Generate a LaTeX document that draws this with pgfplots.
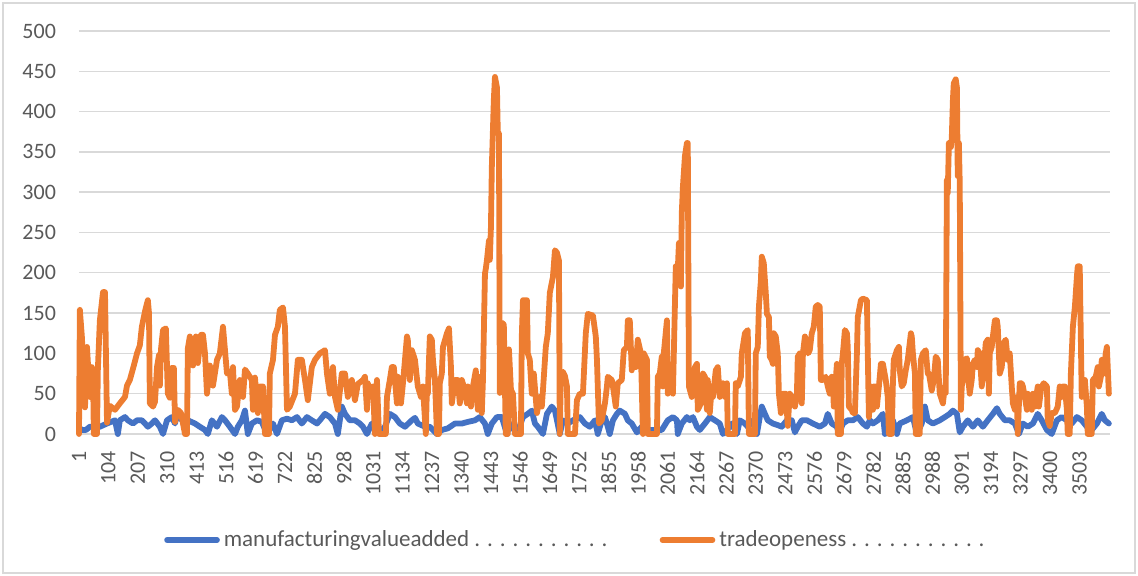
\documentclass[border=0pt]{standalone}
\usepackage{pgfplots}
\usepackage{pgfplotstable}
\pgfplotsset{compat=1.18}
\usepackage{fontspec}
\setmainfont{Carlito}
\definecolor{mblue}{HTML}{4472C4}
\definecolor{morange}{HTML}{ED7D31}
\definecolor{gridgray}{HTML}{D9D9D9}
\definecolor{textgray}{HTML}{595959}

\pgfplotstableread{
x y
1 8
11 5
25 5
39 9
57 9
74 9
99 13
127 17
137 0
144 17
162 21
172 17
190 13
204 17
221 17
232 13
242 9
256 13
267 17
284 9
295 0
309 17
326 21
337 13
347 29
361 17
382 17
407 13
424 9
442 5
452 0
466 17
484 9
501 21
512 17
529 9
547 0
557 9
571 17
582 29
592 0
606 13
624 17
641 15
659 0
680 13
694 0
711 17
729 19
746 17
764 21
781 13
799 21
816 17
834 13
844 17
862 25
879 21
897 13
907 0
921 34
932 25
949 17
967 17
984 13
995 9
1009 0
1026 13
1037 5
1054 3
1072 9
1089 25
1107 21
1124 13
1142 9
1166 17
1177 20
1187 13
1212 9
1229 9
1254 0
1271 5
1292 7
1317 13
1341 13
1362 15
1387 17
1404 21
1422 13
1432 0
1446 13
1464 21
1481 21
1499 0
1509 13
1534 0
1555 21
1572 25
1586 29
1597 13
1607 9
1625 0
1639 25
1656 34
1667 29
1684 0
1695 17
1712 13
1730 17
1754 21
1772 13
1789 9
1807 17
1817 0
1831 17
1842 21
1852 9
1859 0
1870 17
1884 25
1894 29
1912 25
1922 17
1936 13
1954 2
1971 9
1989 5
2006 5
2024 5
2041 5
2062 17
2080 21
2094 17
2097 0
2111 13
2129 21
2139 17
2150 21
2164 9
2174 5
2192 13
2209 21
2227 17
2244 13
2255 0
2269 5
2286 13
2304 0
2314 17
2332 13
2342 9
2360 17
2374 0
2384 21
2391 34
2402 25
2412 17
2430 13
2447 11
2461 9
2479 17
2496 17
2507 2
2517 9
2531 17
2549 17
2570 13
2594 9
2612 13
2622 25
2636 13
2654 9
2661 0
2675 13
2692 17
2710 17
2727 21
2745 13
2759 9
2769 17
2780 13
2797 17
2815 25
2822 0
2832 13
2850 17
2864 0
2874 13
2899 17
2920 21
2934 0
2951 13
2962 34
2972 17
2990 13
3014 17
3032 21
3049 25
3060 29
3074 25
3084 2
3095 9
3112 17
3130 9
3147 17
3165 9
3182 17
3200 25
3214 32
3224 25
3242 17
3259 17
3277 13
3291 0
3305 13
3322 9
3340 13
3357 25
3371 17
3389 5
3406 0
3424 17
3441 21
3459 17
3476 13
3494 21
3511 17
3529 9
3546 5
3564 13
3581 25
3592 17
3606 13
}\manuf

\pgfplotstableread{
x y
1 0
4 154
11 121
18 70
22 33
29 108
39 46
46 83
50 75
53 0
64 0
67 80
74 141
85 176
92 176
99 14
109 35
127 30
144 38
162 46
169 60
179 67
193 85
204 100
214 110
221 133
232 152
239 162
242 166
246 150
249 38
260 34
267 40
274 83
281 98
284 60
288 105
295 129
305 131
312 50
319 45
326 82
333 82
337 15
347 30
358 26
365 13
372 0
379 0
382 106
389 121
400 85
410 121
417 88
428 123
435 123
442 100
449 50
459 85
470 60
484 92
494 100
505 133
519 75
529 78
536 50
540 83
547 30
554 34
564 67
575 46
582 80
592 75
606 67
610 30
617 70
627 26
634 59
645 59
652 0
666 0
669 75
680 92
687 123
697 133
704 154
715 157
722 133
729 30
739 34
757 50
767 92
781 92
792 67
802 42
816 83
827 92
844 100
862 104
869 75
879 50
890 83
897 46
907 30
921 75
932 75
942 46
956 67
967 42
977 62
995 67
1002 71
1009 30
1012 63
1019 46
1030 59
1037 0
1044 67
1051 0
1075 0
1079 46
1089 67
1096 83
1103 83
1114 38
1117 71
1128 38
1135 63
1149 121
1152 117
1159 67
1166 104
1177 92
1187 59
1198 46
1205 59
1215 0
1219 59
1222 50
1229 121
1236 117
1240 92
1247 67
1254 0
1261 0
1264 63
1271 75
1275 108
1289 125
1296 131
1303 83
1306 38
1317 67
1327 67
1334 38
1341 67
1348 59
1359 38
1362 59
1373 34
1380 59
1390 79
1397 30
1401 71
1411 26
1415 67
1422 199
1425 205
1429 216
1436 240
1439 216
1443 257
1446 330
1453 414
1457 443
1464 430
1467 373
1471 373
1474 51
1481 138
1488 136
1495 0
1502 0
1506 105
1513 55
1520 50
1527 0
1548 0
1551 121
1555 166
1569 166
1572 100
1579 92
1586 50
1593 75
1604 26
1614 46
1621 34
1625 54
1635 108
1642 125
1649 175
1660 195
1667 228
1674 225
1681 215
1684 0
1688 75
1695 77
1702 72
1709 59
1712 0
1737 0
1744 42
1754 50
1765 50
1775 125
1782 149
1800 147
1810 121
1814 92
1821 13
1831 17
1842 38
1849 59
1852 71
1866 67
1870 59
1880 34
1887 63
1901 67
1908 104
1919 108
1922 141
1929 141
1936 79
1940 92
1950 83
1957 117
1968 100
1975 0
1978 100
1989 92
1992 0
2010 0
2024 0
2027 71
2034 75
2041 96
2045 59
2048 100
2059 141
2062 50
2069 59
2080 50
2090 208
2097 204
2101 237
2108 183
2111 274
2115 307
2122 345
2129 361
2132 361
2136 59
2146 46
2150 50
2157 83
2164 87
2167 30
2178 38
2185 75
2192 71
2199 30
2202 67
2209 26
2216 59
2220 46
2230 79
2237 83
2244 46
2251 59
2255 63
2262 46
2269 63
2272 0
2297 0
2300 63
2307 59
2318 71
2321 100
2332 125
2342 129
2346 0
2367 0
2370 100
2377 108
2381 158
2388 191
2391 220
2398 212
2405 175
2409 149
2416 145
2419 96
2426 92
2430 87
2433 125
2440 121
2447 100
2451 50
2458 26
2465 50
2475 50
2482 10
2489 50
2496 46
2507 34
2514 50
2517 96
2524 100
2531 38
2535 100
2542 121
2553 100
2559 104
2566 125
2573 133
2580 158
2587 160
2594 158
2598 67
2605 67
2615 71
2622 59
2629 50
2636 71
2640 67
2643 34
2654 87
2657 0
2668 0
2671 87
2675 100
2682 129
2689 125
2692 108
2696 34
2706 30
2710 26
2717 26
2724 100
2727 145
2738 166
2745 168
2759 166
2762 100
2766 21
2773 59
2780 30
2783 59
2790 59
2794 34
2801 59
2808 87
2815 87
2825 67
2832 46
2836 0
2846 0
2850 63
2853 92
2864 104
2871 108
2874 79
2881 59
2888 63
2895 79
2902 92
2913 125
2916 121
2920 100
2927 75
2930 0
2944 0
2948 92
2955 100
2965 104
2972 75
2976 75
2986 54
2993 67
3000 96
3007 92
3014 50
3025 38
3032 59
3035 51
3039 315
3042 299
3046 361
3053 356
3056 366
3060 414
3063 435
3070 440
3074 430
3077 320
3081 361
3084 311
3088 30
3091 59
3095 67
3102 92
3109 94
3112 75
3119 50
3126 67
3130 87
3137 92
3144 83
3147 104
3154 100
3161 59
3168 83
3175 113
3182 117
3186 50
3189 100
3196 108
3200 121
3207 141
3214 141
3217 133
3224 75
3231 83
3238 113
3245 117
3252 92
3259 100
3266 59
3270 38
3277 30
3284 46
3287 0
3294 63
3301 63
3305 59
3312 46
3319 30
3322 50
3329 38
3336 30
3340 50
3347 34
3357 59
3361 34
3368 54
3371 59
3378 63
3389 59
3392 17
3399 10
3406 26
3417 26
3427 34
3434 59
3441 46
3445 59
3452 59
3459 30
3462 0
3469 0
3473 75
3480 133
3487 158
3494 195
3497 208
3504 208
3511 46
3515 59
3522 67
3529 34
3532 0
3546 0
3550 67
3560 71
3567 83
3571 59
3578 71
3581 92
3588 75
3595 100
3599 108
3606 50
}\trade

\begin{document}
\begin{tikzpicture}
\useasboundingbox (-39.5pt,-71pt) rectangle (529.5pt,217pt);
\draw[gridgray, line width=0.6pt] (-38pt,-69.5pt) rectangle (528pt,215.5pt);
\begin{axis}[
  at={(0pt,0pt)}, anchor=south west,
  scale only axis, width=515.5pt, height=201.5pt,
  xmin=1, xmax=3610, ymin=0, ymax=500,
  xtick={1,104,...,3503},
  ytick={0,50,...,500},
  ymajorgrids,
  grid style={color=gridgray, line width=0.7pt},
  axis line style={draw=none},
  major tick length=0pt,
  clip=false,
  /pgf/number format/1000 sep={},
  /pgf/number format/assume math mode=true,
  tick label style={font=\fontsize{11pt}{13pt}\selectfont, color=textgray},
  x tick label style={rotate=90, anchor=east},
  xticklabel shift=5pt,
  yticklabel shift=8pt,
  legend style={at={(0.4825,-0.263)}, anchor=center, draw=none, fill=none,
    font=\fontsize{11.5pt}{13.5pt}\selectfont, text=textgray,
    /tikz/every even column/.append style={column sep=24pt}},
  legend columns=2,
  legend cell align=left,
  legend image code/.code={\draw[#1, line width=2.8pt, line cap=round] (0pt,0pt) -- (25pt,0pt);},
]
\addplot[mblue, line width=2.9pt, line join=round, line cap=round] table[x=x,y=y] {\manuf};
\addlegendentry{manufacturingvalueadded . . . . . . . . . . .}
\addplot[morange, line width=2.9pt, line join=round, line cap=round] table[x=x,y=y] {\trade};
\addlegendentry{tradeopeness . . . . . . . . . . .}
\end{axis}
\end{tikzpicture}
\end{document}
